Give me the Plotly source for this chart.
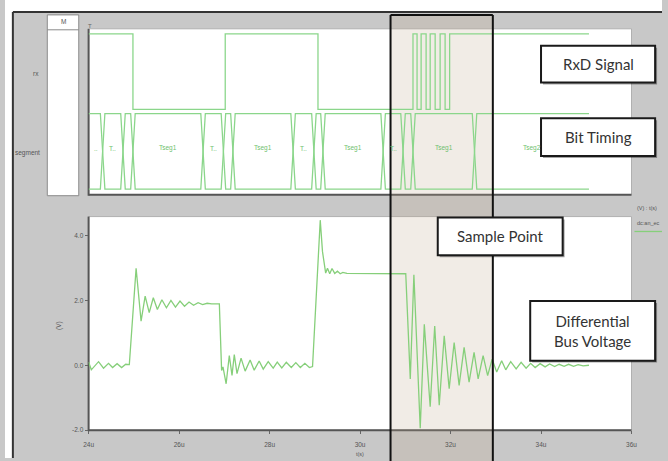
import plotly.graph_objects as go

# ---------------- data ----------------
# Differential bus voltage (peaks / troughs / corners)
wave_t = [24.00, 24.06, 24.22, 24.33, 24.44, 24.53, 24.63, 24.73, 24.82, 24.90,
          25.05, 25.16, 25.25, 25.34, 25.43, 25.52, 25.62, 25.72, 25.82, 25.92,
          26.02, 26.12, 26.22, 26.32, 26.42, 26.52, 26.62, 26.72, 26.89,
          26.94, 26.97, 27.04, 27.11, 27.17, 27.22, 27.28, 27.37, 27.46, 27.57,
          27.66, 27.77, 27.86, 27.97, 28.08, 28.17, 28.27, 28.37, 28.48, 28.58,
          28.68, 28.78, 28.88, 28.95,
          29.12, 29.17, 29.20, 29.24, 29.28, 29.33, 29.38, 29.44, 29.50, 29.56,
          29.62, 29.71, 31.01,
          31.11, 31.19, 31.33, 31.42, 31.55, 31.65, 31.75, 31.86, 31.97, 32.08,
          32.19, 32.30, 32.41, 32.52, 32.61, 32.72, 32.82, 32.92, 33.02, 33.13,
          33.22, 33.33, 33.45, 33.56, 33.67, 33.77, 33.87, 33.98, 34.09, 34.19,
          34.30, 34.40, 34.51, 34.61, 34.72, 34.82, 34.93, 35.06]
wave_v = [0.10, -0.14, 0.11, -0.09, 0.06, -0.07, 0.05, -0.07, 0.03, 0.02,
          2.99, 1.36, 2.13, 1.62, 2.08, 1.72, 2.02, 1.77, 2.00, 1.79,
          1.98, 1.82, 1.95, 1.85, 1.93, 1.87, 1.91, 1.89, 1.89,
          -0.16, -0.05, -0.57, 0.30, -0.31, 0.33, -0.26, 0.22, -0.18, 0.16,
          -0.15, 0.13, -0.12, 0.11, -0.09, 0.10, -0.08, 0.09, -0.07, 0.08,
          -0.07, 0.06, -0.07, -0.04,
          4.47, 3.50, 3.15, 2.84, 2.99, 2.82, 2.98, 2.83, 2.90, 2.82,
          2.86, 2.83, 2.82,
          -0.42, 2.79, -1.94, 1.26, -1.28, 1.21, -1.23, 0.91, -0.72, 0.70,
          -0.62, 0.55, -0.52, 0.40, -0.42, 0.30, -0.32, 0.19, -0.21, 0.14,
          -0.14, 0.11, -0.11, 0.09, -0.09, 0.06, -0.07, 0.05, -0.05, 0.04,
          -0.04, 0.03, -0.03, 0.03, -0.03, 0.02, -0.02, 0.00]

# RxD signal (logic level after each edge)
rx_t = [24.00, 24.98, 27.02, 29.07, 31.17, 31.26, 31.35, 31.46, 31.55,
        31.66, 31.77, 31.88, 31.98, 35.06]
rx_level = [1, 0, 1, 0, 1, 0, 1, 0, 1, 0, 1, 0, 1, 1]

# Bit timing segments
seg_edges = [24.00, 24.31, 24.76, 24.98, 26.53, 26.98, 27.19, 28.52, 28.98,
             29.18, 30.51, 30.95, 31.17, 32.53, 35.06]
seg_labels = ["..", "T..", "", "Tseg1", "T..", "", "Tseg1", "T..", "",
              "Tseg1", "T..", "", "Tseg1", "Tseg2"]

# axis ticks
x_tickvals = [24, 26, 28, 30, 32, 34, 36]
x_ticktext = ["24u", "26u", "28u", "30u", "32u", "34u", "36u"]
y_tickvals = [-2, 0, 2, 4]
y_ticktext = ["-2.0", "0.0", "2.0", "4.0"]

# ---------------- geometry helpers ----------------
W, H = 668, 461
def px(x):
    return x / W
def py(y):
    return 1 - y / H

GREEN = "#86cf7a"
SEG_GREEN = "#8bd68b"

PL, PR = 85, 637           # plot left / right (pixels)
TOP_T, TOP_B = 29, 196     # top panel
BOT_T, BOT_B = 218, 433    # bottom panel
RX_HIGH, RX_LOW = 34, 110
SEG_TOP, SEG_BOT = 114.3, 190.3
HALF = 0.05

fig = go.Figure()

# waveform
fig.add_trace(go.Scatter(x=wave_t, y=wave_v, mode="lines",
                         line=dict(color=GREEN, width=1.3),
                         xaxis="x", yaxis="y", hoverinfo="skip"))

# rx
fig.add_trace(go.Scatter(x=rx_t, y=[RX_LOW + l * (RX_HIGH - RX_LOW) for l in rx_level],
                         mode="lines", line=dict(color=SEG_GREEN, width=1.3, shape="hv"),
                         xaxis="x2", yaxis="y2", hoverinfo="skip"))

# segment bus lines
ax_, ay_, bx_, by_ = [seg_edges[0]], [SEG_TOP], [seg_edges[0]], [SEG_BOT]
a_top = True
for T in seg_edges[1:-1]:
    ya = SEG_TOP if a_top else SEG_BOT
    yb = SEG_BOT if a_top else SEG_TOP
    ax_ += [T - HALF, T + HALF]; ay_ += [ya, yb]
    bx_ += [T - HALF, T + HALF]; by_ += [yb, ya]
    a_top = not a_top
ax_.append(seg_edges[-1]); ay_.append(ay_[-1])
bx_.append(seg_edges[-1]); by_.append(by_[-1])
for xs, ys in ((ax_, ay_), (bx_, by_)):
    fig.add_trace(go.Scatter(x=xs, y=ys, mode="lines",
                             line=dict(color=SEG_GREEN, width=1.3),
                             xaxis="x2", yaxis="y2", hoverinfo="skip"))

annotations = []
for i, lab in enumerate(seg_labels):
    if lab:
        annotations.append(dict(x=(seg_edges[i] + seg_edges[i + 1]) / 2, y=149,
                                xref="x2", yref="y2", text=lab, showarrow=False,
                                xanchor="center", yanchor="middle",
                                font=dict(size=6.5, color="#6fbf6f", family="Liberation Sans")))

shapes = []
def rect(x0, y0, x1, y1, fill, line_color=None, lw=0, layer="below"):
    shapes.append(dict(type="rect", xref="paper", yref="paper",
                       x0=px(x0), x1=px(x1), y0=py(y1), y1=py(y0),
                       fillcolor=fill, layer=layer,
                       line=dict(color=line_color or fill, width=lw)))
def line(x0, y0, x1, y1, color, lw, layer="below"):
    shapes.append(dict(type="line", xref="paper", yref="paper",
                       x0=px(x0), x1=px(x1), y0=py(y0), y1=py(y1),
                       layer=layer, line=dict(color=color, width=lw)))

# white outside strips
rect(0, 0, W, 12, "white")
rect(0, 0, 8, H, "white")
# frame border
line(8, 12, W, 12, "#333", 2)
line(8, 12, 8, H, "#333", 2)

# label column
rect(43, 15, 75, 197, "white", "#8a8a8a", 1)
line(43, 30, 75, 30, "#8a8a8a", 1)

# plot areas
for (t, b) in ((TOP_T, TOP_B), (BOT_T, BOT_B)):
    rect(PL, t, PR, b, "white", "#b0b0b0", 1)
    line(PL, t, PL, b + 1, "#555", 2)
    line(PL, b, PR, b, "#555", 2)

# sample point band
rect(392, 15, 496, 475, "rgba(190,170,140,0.22)")

# band borders (above)
line(392, 15, 392, H + 5, "#111", 2, "above")
line(496, 15, 496, H + 5, "#111", 2, "above")
line(392, 15, 496, 15, "#111", 2, "above")

# callout boxes
boxes = [
    (545, 46, 661, 83, "RxD Signal"),
    (545, 119, 661, 157, "Bit Timing"),
    (440, 219, 567, 257, "Sample Point"),
    (534, 303, 661, 363, "Differential<br>Bus Voltage"),
]
for (x0, y0, x1, y1, txt) in boxes:
    rect(x0 + 2, y0 + 2, x1 + 2, y1 + 2, "rgba(0,0,0,0.35)", layer="above")
    rect(x0, y0, x1, y1, "white", "#1a1a1a", 2, layer="above")
    annotations.append(dict(x=px((x0 + x1) / 2), y=py((y0 + y1) / 2), xref="paper", yref="paper",
                            text=txt, showarrow=False, align="center",
                            xanchor="center", yanchor="middle",
                            font=dict(size=15, color="#333", family="Lato")))

# legend line (top-right)
line(640, 233, 668, 233, GREEN, 1.3)

small = dict(size=6.5, color="#555", family="Liberation Sans")
def label(x, y, txt, xanchor="center", f=None, angle=0):
    annotations.append(dict(x=px(x), y=py(y), xref="paper", yref="paper", text=txt,
                            showarrow=False, xanchor=xanchor, yanchor="middle",
                            textangle=angle, font=f or small))

label(59, 22, "M")
label(37, 74, "rx", "right")
label(38, 154, "segment", "right")
label(86, 26, "T", "center", dict(size=6, color="#666", family="Liberation Sans"))
label(55, 328, "(V)", angle=-90)
tiny = dict(size=5.5, color="#555", family="Liberation Sans")
label(361, 457, "t(s)", f=tiny)
label(641, 209, "(V) : t(s)", "left", tiny)
label(641, 224, "dc:an_ec", "left", tiny)

fig.update_layout(
    width=W, height=H, autosize=False,
    margin=dict(l=0, r=0, t=0, b=0),
    paper_bgcolor="#c8c8c8", plot_bgcolor="rgba(0,0,0,0)",
    showlegend=False,
    xaxis=dict(domain=[px(PL), px(PR)], range=[24, 36], anchor="y",
               tickvals=x_tickvals, ticktext=x_ticktext, ticks="outside",
               ticklen=3, tickcolor="#666", tickfont=small, showgrid=False,
               zeroline=False, showline=False, ticklabelstandoff=5),
    yaxis=dict(domain=[py(BOT_B), py(BOT_T)],
               range=[-2.0, 4 + (237 - BOT_T) / 32.72], anchor="x",
               tickvals=y_tickvals, ticktext=y_ticktext, ticks="outside",
               ticklen=3, tickcolor="#666", tickfont=small, showgrid=False,
               zeroline=False, showline=False),
    xaxis2=dict(domain=[px(PL), px(PR)], range=[24, 36], anchor="y2", visible=False),
    yaxis2=dict(domain=[py(TOP_B), py(TOP_T)], range=[TOP_B, TOP_T], anchor="x2", visible=False),
    shapes=shapes, annotations=annotations,
)

fig.write_html("out.html", config={"responsive": False, "displayModeBar": False},
               post_script="document.body.style.margin='0';document.body.style.overflow='hidden';")
